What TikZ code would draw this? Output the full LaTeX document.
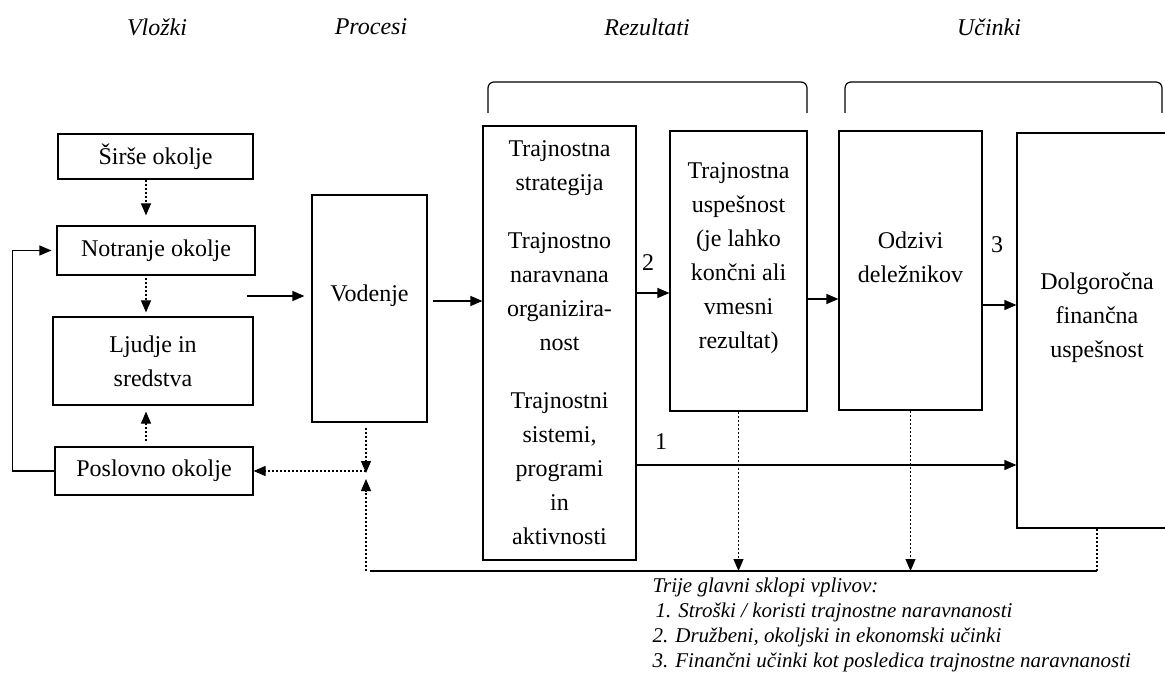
\documentclass[tikz,border=0pt]{standalone}
\usepackage{fontspec}
\setmainfont{Liberation Serif}
\usetikzlibrary{arrows.meta}

\begin{document}
\begin{tikzpicture}[x=0.5pt, y=-0.5pt, line width=0.6pt,
  font=\fontsize{12}{17}\selectfont,
  b/.style={draw, inner sep=0pt, align=center},
  t/.style={inner sep=0pt, align=center},
  hd/.style={inner sep=0pt, font=\fontsize{12}{14}\selectfont\itshape},
  a/.style={-{Triangle[length=6pt, width=5pt]}},
  d/.style={dash pattern=on 1.2pt off 0.8pt}]
\useasboundingbox (0,0) rectangle (1165,683);
% column heads
\node[hd] (vlo) at (157,27) {Vložki};
\node[hd] (pro) at (371,27) {Procesi};
\node[hd] (rez) at (647,27) {Rezultati};
\node[hd] (uci) at (989,27) {Učinki};
\draw[rounded corners=3pt] (488,113) |- (807,82) -- (807,113);
\draw[rounded corners=3pt] (845,113) |- (1162,82) -- (1162,113);
% boxes
\node[b, minimum width=97.5pt, minimum height=22.5pt] (sir) at (155.5,156.5) {Širše okolje};
\node[b, minimum width=99pt, minimum height=24.5pt] (not) at (156,250.5) {Notranje okolje};
\node[b, minimum width=100pt, minimum height=44pt] (lju) at (153,361) {Ljudje in\\sredstva};
\node[b, minimum width=99pt, minimum height=24pt] (pos) at (154,471) {Poslovno okolje};
\node[b, minimum width=57.5pt, minimum height=113.5pt] (vod) at (369.5,308.5) {};
\node[t] (vodt) at ([yshift=6.25pt]vod.center) {Vodenje};
\node[b, minimum width=76.5pt, minimum height=217pt] (ts) at (559.5,343) {Trajnostna\\strategija\\[12pt]Trajnostno\\naravnana\\organizira-\\nost\\[12pt]Trajnostni\\sistemi,\\programi\\in\\aktivnosti};
\node[b, minimum width=68.5pt, minimum height=140pt] (tu) at (738.5,271) {};
\node[t] (tut) at ([yshift=6.25pt]tu.center) {Trajnostna\\uspešnost\\(je lahko\\končni ali\\vmesni\\rezultat)};
\node[b, minimum width=71.5pt, minimum height=139.5pt] (odz) at (910.5,270.5) {};
\node[t] (odzt) at ([yshift=6.75pt]odz.center) {Odzivi\\deležnikov};
\node[b, minimum width=80pt, minimum height=197.5pt] (dol) at (1097,330.5) {};
\node[t] (dolt) at ([yshift=6.25pt]dol.center) {Dolgoročna\\finančna\\uspešnost};
% rows and points
\coordinate (ax) at (146,0);
\coordinate (in) at (247,296);
\coordinate (r0) at (0,301);
\coordinate (r2) at (0,293);
\coordinate (rv) at (0,299);
\coordinate (r3) at (0,305);
\coordinate (r1) at (0,465);
\coordinate (j) at (366,471);
\coordinate (bl) at (366,571);
% connectors
\draw[d,a,shorten >=5pt] (sir.south -| ax) -- (not.north -| ax);
\draw[d,a,shorten <=1pt,shorten >=2pt] (not.south -| ax) -- (lju.north -| ax);
\draw[d,a,shorten <=2.5pt,shorten >=3pt] (pos.north -| ax) -- (lju.south -| ax);
\draw[a,shorten >=2.5pt] (pos.west) -- ++(-42,0) |- (not.west);
\draw[a,shorten >=3.5pt] (in) -- (vod.west |- in);
\draw[a,shorten <=2.5pt] (vod.east |- r0) -- (ts.west |- r0);
\draw[a] (ts.east |- r2) -- (tu.west |- r2);
\draw[a] (tu.east |- rv) -- (odz.west |- rv);
\draw[a] (odz.east |- r3) -- (dol.west |- r3);
\draw[a] (ts.east |- r1) -- (dol.west |- r1);
\node[t] (n2) at (648,263) {2};
\node[t] (n3) at (997,245) {3};
\node[t] (n1) at (661,442) {1};
\draw[d,a] ([yshift=-2.5pt]vod.south -| j) -- ([yshift=-1pt]j);
\draw[d,a] (j) -- (pos.east);
\draw[d,a] (bl) -- ([yshift=-4pt]j);
\draw ([xshift=2pt]bl) -- (dol.south |- bl);
\draw[d,a] (tu.south) -- (tu.south |- bl);
\draw[d,a] (odz.south) -- (odz.south |- bl);
\draw[d] (dol.south) -- (dol.south |- bl);
\node[t, anchor=west, align=left, font=\fontsize{10.5}{12.5}\selectfont\itshape] (key) at (652,624.5) {Trije glavni sklopi vplivov:\\\hspace*{1.5pt}1. Stroški / koristi trajnostne naravnanosti\\2. Družbeni, okoljski in ekonomski učinki\\3. Finančni učinki kot posledica trajnostne naravnanosti};
\end{tikzpicture}
\end{document}
